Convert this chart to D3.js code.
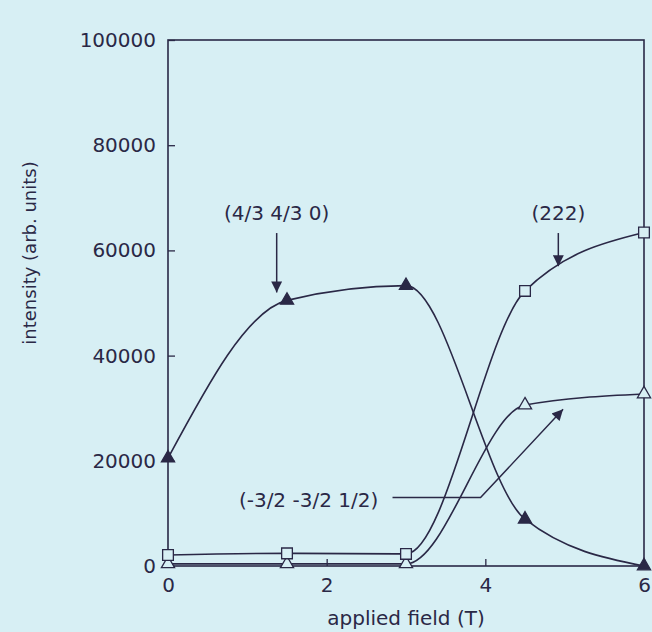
<!DOCTYPE html>
<html>
<head>
<meta charset="utf-8">
<script src="https://cdn.jsdelivr.net/npm/d3@7"></script>
<style>
  html, body { margin: 0; padding: 0; background: #d7eff4; }
  #chart { width: 652px; height: 632px; }
  text { font-family: "DejaVu Sans", sans-serif; fill: #2a2846; }
</style>
</head>
<body>
<div id="chart"></div>
<script>
// applied field (T) at each measurement
const field = [0, 1.5, 3, 4.5, 6];
// peak intensities (arb. units)
const peak430 = [20500, 50500, 53300, 8900, 0];      // (4/3 4/3 0), filled triangles
const peak222 = [2100, 2400, 2300, 52300, 63400];    // (222), open squares
const peakHalf = [400, 400, 400, 30600, 32700];      // (-3/2 -3/2 1/2), open triangles

const xTicks = [0, 2, 4, 6];
const yTicks = [0, 20000, 40000, 60000, 80000, 100000];

function drawChart() {
    const margin = {top: 40, right: 8, bottom: 66, left: 168},
        width = 652 - margin.left - margin.right,
        height = 632 - margin.top - margin.bottom;
    const ink = "#2a2846";

    const svg = d3.select("#chart")
        .append("svg")
        .attr("width", 652).attr("height", 632)
        .append("g")
        .attr("transform", `translate(${margin.left},${margin.top})`);

    const x = d3.scaleLinear().domain([0, 6]).range([0, width]);
    const y = d3.scaleLinear().domain([0, 100000]).range([height, 0]);

    // frame
    svg.append("rect")
        .attr("x", 0).attr("y", 0)
        .attr("width", width).attr("height", height)
        .attr("fill", "none")
        .attr("stroke", ink)
        .attr("stroke-width", 1.6);

    // axes, ticks pointing inward
    const xAxis = svg.append("g")
        .attr("transform", `translate(0,${height})`)
        .call(d3.axisBottom(x).tickValues(xTicks).tickSize(-7).tickPadding(12).tickFormat(d3.format("d")));
    xAxis.select(".domain").remove();
    xAxis.selectAll("line").attr("stroke", ink).attr("stroke-width", 1.3);
    xAxis.selectAll("text").style("font-size", "20px").attr("fill", ink);

    const yAxis = svg.append("g")
        .call(d3.axisLeft(y).tickValues(yTicks).tickSize(-7).tickPadding(12).tickFormat(d3.format("d")));
    yAxis.select(".domain").remove();
    yAxis.selectAll("line").attr("stroke", ink).attr("stroke-width", 1.3);
    yAxis.selectAll("text").style("font-size", "20px").attr("fill", ink);

    svg.append("text")
        .attr("text-anchor", "middle")
        .attr("x", x(3))
        .attr("y", height + 59)
        .style("font-size", "20px")
        .text("applied field (T)");
    svg.append("text")
        .attr("text-anchor", "middle")
        .attr("transform", `translate(${-132},${213}) rotate(-90)`)
        .style("font-size", "18px")
        .text("intensity (arb. units)");

    const line = d3.line()
        .x(d => x(d[0]))
        .y(d => y(d[1]))
        .curve(d3.curveMonotoneX);

    const series = [
        {vals: peakHalf, shape: d3.symbolTriangle, fill: "#d7eff4"},
        {vals: peak222, shape: d3.symbolSquare, fill: "#d7eff4"},
        {vals: peak430, shape: d3.symbolTriangle, fill: ink}
    ];
    series.forEach(s => {
        const pts = field.map((f, i) => [f, s.vals[i]]);
        svg.append("path")
            .datum(pts)
            .attr("fill", "none")
            .attr("stroke", ink)
            .attr("stroke-width", 1.6)
            .attr("d", line);
        svg.selectAll(null)
            .data(pts)
            .enter().append("path")
            .attr("transform", d => `translate(${x(d[0])},${y(d[1])})`)
            .attr("d", d3.symbol().type(s.shape).size(s.shape === d3.symbolSquare ? 115 : 75))
            .attr("fill", s.fill)
            .attr("stroke", ink)
            .attr("stroke-width", 1.3);
    });

    // arrow head for the annotations
    d3.select("#chart svg").append("defs")
        .append("marker")
        .attr("id", "head")
        .attr("viewBox", "0 0 10 10")
        .attr("refX", 10).attr("refY", 5)
        .attr("markerWidth", 13).attr("markerHeight", 11)
        .attr("markerUnits", "userSpaceOnUse")
        .attr("orient", "auto")
        .append("path")
        .attr("d", "M0,0 L10,5 L0,10 Z")
        .attr("fill", ink);

    svg.append("text")
        .attr("text-anchor", "middle")
        .attr("x", x(1.37)).attr("y", y(65800))
        .style("font-size", "20px")
        .text("(4/3 4/3 0)");
    svg.append("line")
        .attr("x1", x(1.37)).attr("y1", y(63300))
        .attr("x2", x(1.37)).attr("y2", y(52000))
        .attr("stroke", ink).attr("stroke-width", 1.5)
        .attr("marker-end", "url(#head)");

    svg.append("text")
        .attr("text-anchor", "middle")
        .attr("x", x(4.92)).attr("y", y(65800))
        .style("font-size", "20px")
        .text("(222)");
    svg.append("line")
        .attr("x1", x(4.92)).attr("y1", y(63300))
        .attr("x2", x(4.92)).attr("y2", y(57000))
        .attr("stroke", ink).attr("stroke-width", 1.5)
        .attr("marker-end", "url(#head)");

    svg.append("text")
        .attr("text-anchor", "end")
        .attr("x", x(2.65)).attr("y", y(11200))
        .style("font-size", "20px")
        .text("(-3/2 -3/2 1/2)");
    svg.append("polyline")
        .attr("points", [[x(2.83), y(13000)], [x(3.94), y(13000)], [x(4.98), y(29800)]].map(p => p.join(",")).join(" "))
        .attr("fill", "none")
        .attr("stroke", ink).attr("stroke-width", 1.5)
        .attr("marker-end", "url(#head)");
}

drawChart();
</script>
</body>
</html>
